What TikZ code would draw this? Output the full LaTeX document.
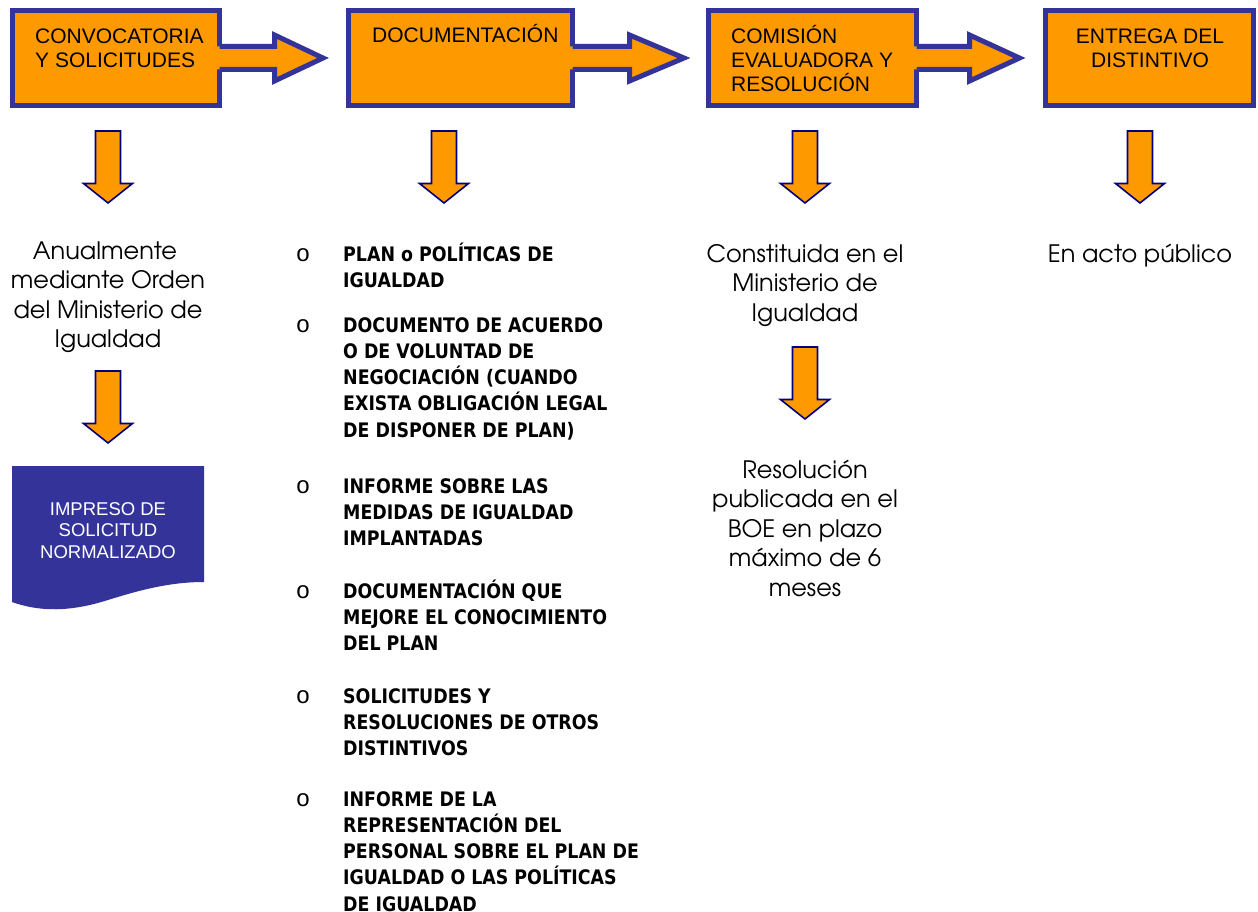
\documentclass[tikz,border=0pt]{standalone}
\usepackage{fontspec}
\usetikzlibrary{calc}
\newfontfamily\boxfont{Liberation Sans}
\newfontfamily\gothicfont{TeX Gyre Adventor}
\newfontfamily\listfont[FakeStretch=0.87]{DejaVu Sans}
\newfontfamily\bulletfont{Liberation Mono}
\definecolor{orng}{HTML}{FF9900}
\definecolor{frameblue}{HTML}{333399}
\definecolor{arrnavy}{HTML}{000080}
\newcommand\tstrut{\rule{0pt}{30pt}}
\newcommand\stagearrow[3]{%
  \fill[orng] ($(#1.east)+(-2.5,-11.5)$) -- ++(#2+2.5,0) -- ++(0,-11.5) -- ++(#3,23) -- ++(-#3,23) -- ++(0,-11.5) -- ++(-#2-2.5,0) -- cycle;
  \draw[stageline] ($(#1.east)+(0,-11.5)$) -- ++(#2,0) -- ++(0,-11.5) -- ++(#3,23) -- ++(-#3,23) -- ++(0,-11.5) -- ++(-#2,0);
}
\begin{document}
\begin{tikzpicture}[x=1pt,y=-1pt,
  stageline/.style={draw=frameblue, line width=5pt, line join=miter},
  stagebox/.style={stageline, fill=orng, minimum height=95pt, inner sep=0pt, outer sep=0pt},
  stagetext/.style={font=\boxfont\fontsize{21}{24}\selectfont, align=left, inner sep=0pt, anchor=north west},
  downstyle/.style={fill=orng, draw=arrnavy, line width=1.6pt, line join=miter},
  downarr/.pic={\draw[downstyle] (-12.5,0) -- (12.5,0) -- (12.5,52.5) -- (24.5,52.5) -- (0,72) -- (-24.5,52.5) -- (-12.5,52.5) -- cycle;},
  coltext/.style={font=\gothicfont\fontsize{24}{29.5}\selectfont, align=center, inner sep=0pt, anchor=north},
  listitem/.style={font=\listfont\bfseries\fontsize{20}{26.2}\selectfont, align=left, inner sep=0pt, anchor=north west},
  bulletmark/.style={font=\bulletfont\fontsize{24}{24}\selectfont, inner sep=0pt, anchor=base},
  doctext/.style={font=\boxfont\fontsize{18.5}{21.7}\selectfont, text=white, align=center, inner sep=0pt, anchor=north}
]
\useasboundingbox (0,0) rectangle (1258,912);

% stage boxes
\node[stagebox, minimum width=207pt] (b1) at (116,58) {};
\node[stagebox, minimum width=224pt] (b2) at (460.5,58) {};
\node[stagebox, minimum width=208pt] (b3) at (812.5,58) {};
\node[stagebox, minimum width=208pt] (b4) at (1149.5,58) {};

\stagearrow{b1}{55}{48.5}
\stagearrow{b2}{57}{54.5}
\stagearrow{b3}{53}{50}

\node[stagetext] (t1) at (35,13) {\tstrut CONVOCATORIA\\Y SOLICITUDES};
\node[stagetext] (t2) at (372,12) {\tstrut DOCUMENTACIÓN};
\node[stagetext] (t3) at (731,13) {\tstrut COMISIÓN\\EVALUADORA Y\\RESOLUCIÓN};
\node[stagetext, align=center, anchor=north] (t4) at (1150,13) {\tstrut ENTREGA DEL\\DISTINTIVO};

% down arrows
\pic at (108,131) {downarr};
\pic at (444,131) {downarr};
\pic at (805,131) {downarr};
\pic at (1140,131) {downarr};
\pic at (108,371) {downarr};
\pic at (805,347) {downarr};

% column texts
\node[coltext] (c1) at (108,229) {\tstrut Anualmente\kern6pt\\mediante Orden\\del Ministerio de\\Igualdad};
\node[coltext] (c3) at (805,232) {\tstrut Constituida en el\\Ministerio de\\Igualdad};
\node[coltext] (c3b) at (805,448) {\tstrut Resolución\\publicada en el\\BOE en plazo\\máximo de 6\\meses};
\node[coltext] (c4) at (1140,232) {\tstrut En acto público};

% document shape
\path[fill=frameblue] (12,466) -- (204,466) -- (204,582) .. controls (170,582) and (140,590) .. (108,600) .. controls (70,612) and (40,612) .. (12,602) -- cycle;
\node[doctext] (doc) at (108,485) {\tstrut IMPRESO DE\\SOLICITUD\\NORMALIZADO};

% list
\node[bulletmark] (o1) at (303,261) {o};
\node[listitem] (i1) at (343,231) {\tstrut PLAN o POLÍTICAS DE\\IGUALDAD};
\node[bulletmark] (o2) at (303,332) {o};
\node[listitem] (i2) at (343,302) {\tstrut DOCUMENTO DE ACUERDO\\O DE VOLUNTAD DE\\NEGOCIACIÓN (CUANDO\\EXISTA OBLIGACIÓN LEGAL\\DE DISPONER DE PLAN)};
\node[bulletmark] (o3) at (303,493) {o};
\node[listitem] (i3) at (343,463) {\tstrut INFORME SOBRE LAS\\MEDIDAS DE IGUALDAD\\IMPLANTADAS};
\node[bulletmark] (o4) at (303,598) {o};
\node[listitem] (i4) at (343,568) {\tstrut DOCUMENTACIÓN QUE\\MEJORE EL CONOCIMIENTO\\DEL PLAN};
\node[bulletmark] (o5) at (303,703) {o};
\node[listitem] (i5) at (343,673) {\tstrut SOLICITUDES Y\\RESOLUCIONES DE OTROS\\DISTINTIVOS};
\node[bulletmark] (o6) at (303,806) {o};
\node[listitem] (i6) at (343,776) {\tstrut INFORME DE LA\\REPRESENTACIÓN DEL\\PERSONAL SOBRE EL PLAN DE\\IGUALDAD O LAS POLÍTICAS\\DE IGUALDAD};
\end{tikzpicture}
\end{document}
